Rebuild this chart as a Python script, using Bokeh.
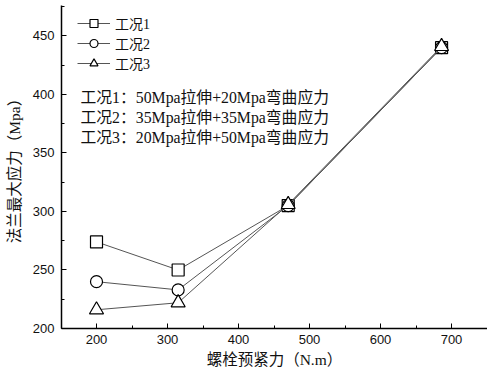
from bokeh.plotting import figure
from bokeh.models import (Range1d, SingleIntervalTicker, Legend, LegendItem, Label)
from bokeh.embed import file_html
from bokeh.resources import INLINE

# ---- data ----
preload = [200, 315, 470, 686]
case1 = [274, 250, 305, 440]
case2 = [240, 233, 305, 440]
case3 = [216, 222, 306, 441]
series_names = ["工况1", "工况2", "工况3"]
notes = ["工况1：50Mpa拉伸+20Mpa弯曲应力",
         "工况2：35Mpa拉伸+35Mpa弯曲应力",
         "工况3：20Mpa拉伸+50Mpa弯曲应力"]
x_label = "螺栓预紧力（N.m）"
y_label = "法兰最大应力（Mpa）"

SERIF = "Liberation Serif, Noto Sans CJK SC"
SANS = "Liberation Sans"

p = figure(width=487, height=375, output_backend="svg", toolbar_location=None,
           x_range=Range1d(150.7, 750.7), y_range=Range1d(200, 476),
           min_border_left=61, min_border_right=0, min_border_top=5,
           min_border_bottom=47)
p.outline_line_color = None
p.xgrid.visible = False
p.ygrid.visible = False
p.background_fill_color = "white"
p.border_fill_color = "white"

p.xaxis.ticker = SingleIntervalTicker(interval=100, num_minor_ticks=2)
p.yaxis.ticker = SingleIntervalTicker(interval=50, num_minor_ticks=2)
for ax in (p.xaxis[0], p.yaxis[0]):
    ax.axis_line_color = "black"
    ax.axis_line_width = 1.5
    ax.major_tick_in = 5
    ax.major_tick_out = 0
    ax.minor_tick_in = 3
    ax.minor_tick_out = 0
    ax.major_tick_line_color = "black"
    ax.minor_tick_line_color = "black"
    ax.major_label_text_font = SANS
    ax.major_label_text_font_size = "13px"
    ax.major_label_text_color = "#111111"
    ax.axis_label_text_font = SERIF
    ax.axis_label_text_font_size = "15.5px"
    ax.axis_label_text_font_style = "normal"
    ax.axis_label_text_color = "#111111"

p.xaxis.axis_label = x_label
p.yaxis.axis_label = y_label
p.xaxis.major_label_standoff = 6
p.xaxis.axis_label_standoff = 4
p.yaxis.major_label_standoff = 7
p.yaxis.axis_label_standoff = 7

line_color = "#555555"
markers = ["square", "circle", "triangle"]
sizes = [12, 12, 14]
items = []
for name, ys, mk, sz in zip(series_names, [case1, case2, case3], markers, sizes):
    lr = p.line(preload, ys, line_color=line_color, line_width=1)
    sr = p.scatter(preload, ys, marker=mk, size=sz, fill_color="white",
                   line_color="black", line_width=1.2)
    items.append(LegendItem(label=name, renderers=[lr, sr]))

legend = Legend(items=items, location=(16, 255), orientation="vertical",
                border_line_color=None, background_fill_alpha=0,
                padding=4, spacing=0, glyph_width=33, glyph_height=20,
                label_standoff=5, label_text_font=SERIF,
                label_text_font_size="14px", label_height=20,
                label_text_color="#111111")
p.add_layout(legend, "center")

for i, t in enumerate(notes):
    p.add_layout(Label(x=19, y=231 - 20 * i, x_units="screen", y_units="screen",
                       text=t, text_font=SERIF, text_font_size="15.8px",
                       text_baseline="middle", text_color="#111111"))

open("out.html", "w").write(file_html(p, INLINE))
